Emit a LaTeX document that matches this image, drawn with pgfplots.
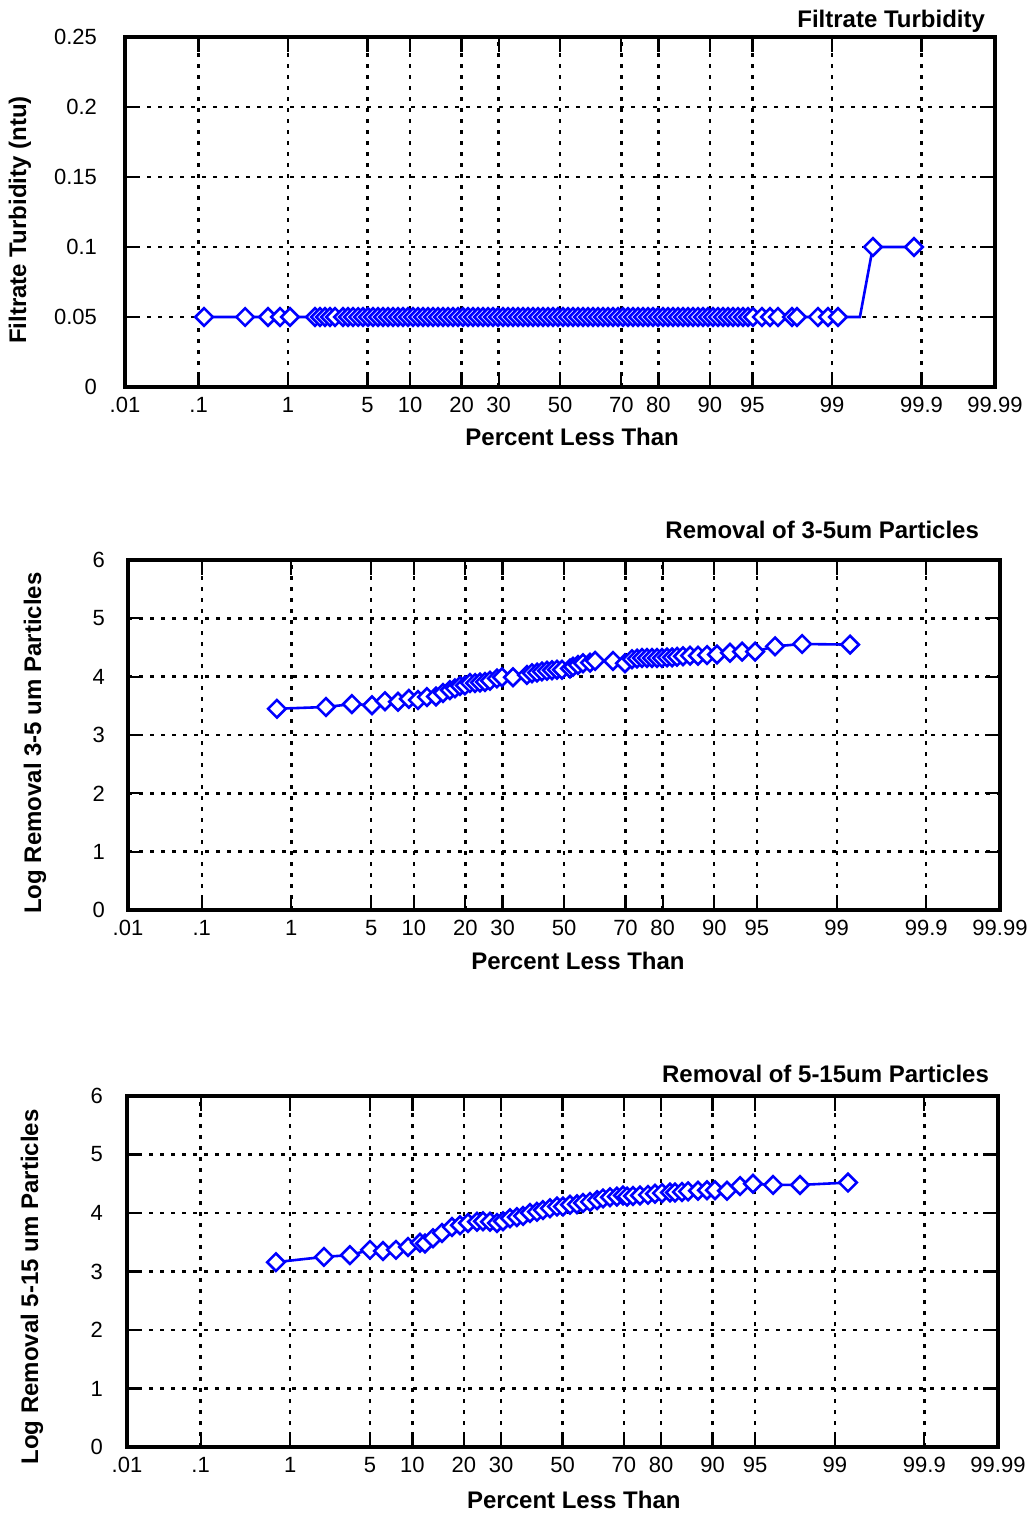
\documentclass[border=0pt]{standalone}
\usepackage{pgfplots}
\pgfplotsset{compat=1.18}
\usepackage{pgfplotstable}
\usepackage{fontspec}
\setmainfont{Liberation Sans}
\definecolor{pblue}{RGB}{0,0,255}

\pgfplotstableread{
z y
-3.043 0.05
-2.692 0.05
-2.496 0.05
-2.393 0.05
-2.308 0.05
-2.094 0.05
-2.051 0.05
-2.009 0.05
-1.966 0.05
-1.923 0.05
-1.855 0.05
-1.812 0.05
-1.769 0.05
-1.726 0.05
-1.684 0.05
-1.641 0.05
-1.598 0.05
-1.556 0.05
-1.513 0.05
-1.470 0.05
-1.427 0.05
-1.385 0.05
-1.342 0.05
-1.299 0.05
-1.256 0.05
-1.214 0.05
-1.171 0.05
-1.128 0.05
-1.085 0.05
-1.043 0.05
-1.000 0.05
-0.957 0.05
-0.915 0.05
-0.872 0.05
-0.829 0.05
-0.786 0.05
-0.744 0.05
-0.701 0.05
-0.658 0.05
-0.615 0.05
-0.573 0.05
-0.530 0.05
-0.487 0.05
-0.444 0.05
-0.402 0.05
-0.359 0.05
-0.316 0.05
-0.274 0.05
-0.231 0.05
-0.188 0.05
-0.145 0.05
-0.103 0.05
-0.060 0.05
-0.017 0.05
0.026 0.05
0.068 0.05
0.111 0.05
0.154 0.05
0.197 0.05
0.239 0.05
0.282 0.05
0.325 0.05
0.368 0.05
0.410 0.05
0.453 0.05
0.496 0.05
0.538 0.05
0.581 0.05
0.624 0.05
0.667 0.05
0.709 0.05
0.752 0.05
0.795 0.05
0.838 0.05
0.880 0.05
0.923 0.05
0.966 0.05
1.009 0.05
1.051 0.05
1.094 0.05
1.137 0.05
1.179 0.05
1.222 0.05
1.265 0.05
1.308 0.05
1.350 0.05
1.393 0.05
1.436 0.05
1.479 0.05
1.521 0.05
1.564 0.05
1.607 0.05
1.650 0.05
1.726 0.05
1.795 0.05
1.863 0.05
1.983 0.05
2.026 0.05
2.205 0.05
2.291 0.05
2.376 0.05
2.564 0.05
2.675 0.10
3.026 0.10
}\turb

\pgfplotstableread{
z y
-2.449 3.45
-2.031 3.48
-1.809 3.53
-1.638 3.51
-1.527 3.58
-1.416 3.57
-1.323 3.62
-1.246 3.60
-1.169 3.65
-1.092 3.66
-1.032 3.72
-0.973 3.77
-0.930 3.80
-0.887 3.84
-0.845 3.85
-0.802 3.89
-0.759 3.89
-0.717 3.90
-0.674 3.91
-0.631 3.93
-0.572 3.97
-0.529 3.99
-0.435 3.99
-0.316 4.03
-0.273 4.06
-0.230 4.07
-0.188 4.09
-0.145 4.10
-0.102 4.11
-0.060 4.12
-0.017 4.12
0.051 4.14
0.077 4.17
0.119 4.20
0.162 4.23
0.222 4.24
0.265 4.27
0.418 4.27
0.520 4.23
0.580 4.30
0.623 4.31
0.666 4.32
0.708 4.32
0.751 4.32
0.794 4.32
0.836 4.32
0.879 4.33
0.922 4.33
0.964 4.34
1.015 4.35
1.075 4.36
1.143 4.36
1.220 4.37
1.305 4.38
1.416 4.41
1.519 4.43
1.630 4.43
1.800 4.52
2.031 4.56
2.440 4.55
}\remA

\pgfplotstableread{
z y
-2.447 3.16
-2.037 3.25
-1.815 3.28
-1.644 3.37
-1.533 3.35
-1.422 3.37
-1.319 3.42
-1.217 3.49
-1.174 3.48
-1.106 3.57
-1.029 3.66
-0.944 3.76
-0.875 3.79
-0.807 3.83
-0.730 3.85
-0.679 3.86
-0.619 3.85
-0.559 3.83
-0.508 3.86
-0.448 3.91
-0.389 3.93
-0.337 3.95
-0.278 4.00
-0.218 4.02
-0.167 4.05
-0.107 4.08
-0.047 4.11
0.004 4.11
0.064 4.14
0.124 4.15
0.175 4.17
0.235 4.19
0.295 4.22
0.346 4.25
0.406 4.27
0.465 4.28
0.517 4.30
0.551 4.28
0.602 4.29
0.662 4.30
0.730 4.31
0.790 4.33
0.850 4.34
0.918 4.35
0.961 4.35
1.020 4.36
1.072 4.37
1.157 4.38
1.234 4.39
1.302 4.39
1.405 4.38
1.516 4.46
1.627 4.50
1.798 4.48
2.028 4.48
2.438 4.52
}\remB

\pgfplotsset{
 probax/.style={
  scale only axis,
  xmin=-3.719, xmax=3.719,
  xtick={-3.719,-3.090,-2.326,-1.645,-1.2816,-0.8416,-0.5244,0,0.5244,0.8416,1.2816,1.645,2.326,3.090,3.719},
  xticklabels={.01,.1,1,5,10,20,30,50,70,80,90,95,99,99.9,99.99},
  tick align=inside, xtick pos=both, ytick pos=both,
  major tick length=7.5pt,
  tick style={black, line width=1.1pt},
  axis line style={black, line width=1.8pt},
  grid=major,
  major grid style={black, line width=1.2pt, dash pattern=on 2pt off 3.5pt},
  tick label style={font=\fontsize{11}{13}\selectfont},
  xticklabel style={yshift=-1.5pt},
  scaled y ticks=false,
  label style={font=\bfseries\fontsize{12}{14}\selectfont},
  title style={font=\bfseries\fontsize{12}{14}\selectfont, anchor=base east},
  xlabel={Percent Less Than},
 },
 dline/.style={pblue, line width=1.3pt, no marks},
 dmark/.style={pblue, only marks, mark=square*, mark size=3.1pt,
   mark options={rotate=45, fill=white, draw=pblue, line width=1.3pt, solid}},
}

\begin{document}
\begin{tikzpicture}
\path[use as bounding box] (0,0) rectangle (514.5pt,-757pt);

% Panel 1
\begin{axis}[probax,
  at={(62.5pt,-18.5pt)}, anchor=north west,
  width=435pt, height=175pt,
  ymin=0, ymax=0.25,
  ytick={0,0.05,0.1,0.15,0.2,0.25},
  yticklabels={0,0.05,0.1,0.15,0.2,0.25},
  yticklabel style={xshift=-10.5pt},
  ylabel={Filtrate Turbidity (ntu)},
  ylabel style={at={(axis description cs:-0.1207,0.477)}, anchor=center},
  xlabel style={at={(axis description cs:0.514,-0.143)}, anchor=center},
  title={Filtrate Turbidity},
  title style={at={(axis description cs:1,1)}, xshift=-1.5pt, yshift=-1.5pt},
]
\addplot[dline] table[x=z,y=y] {\turb};
\addplot[dmark, skip coords between index={101}{102}] table[x=z,y=y] {\turb};
\end{axis}

% Panel 2
\begin{axis}[probax,
  at={(64pt,-280pt)}, anchor=north west,
  width=436pt, height=175pt,
  ymin=0, ymax=6,
  ytick={0,1,2,3,4,5,6},
  yticklabels={0,1,2,3,4,5,6},
  yticklabel style={xshift=-8pt},
  ylabel={Log Removal 3-5 um Particles},
  ylabel style={at={(axis description cs:-0.1067,0.477)}, anchor=center},
  xlabel style={at={(axis description cs:0.516,-0.146)}, anchor=center},
  title={Removal of 3-5um Particles},
  title style={at={(axis description cs:1,1)}, xshift=-7pt, yshift=5pt},
]
\addplot[dline] table[x=z,y=y] {\remA};
\addplot[dmark] table[x=z,y=y] {\remA};
\end{axis}

% Panel 3
\begin{axis}[probax,
  at={(63.5pt,-548pt)}, anchor=north west,
  width=435.5pt, height=175.5pt,
  ymin=0, ymax=6,
  ytick={0,1,2,3,4,5,6},
  yticklabels={0,1,2,3,4,5,6},
  yticklabel style={xshift=-8.5pt},
  ylabel={Log Removal 5-15 um Particles},
  ylabel style={at={(axis description cs:-0.109,0.456)}, anchor=center},
  xlabel style={at={(axis description cs:0.513,-0.151)}, anchor=center},
  title={Removal of 5-15um Particles},
  title style={at={(axis description cs:1,1)}, xshift=-1pt, yshift=1pt},
]
\addplot[dline] table[x=z,y=y] {\remB};
\addplot[dmark] table[x=z,y=y] {\remB};
\end{axis}
\end{tikzpicture}
\end{document}
